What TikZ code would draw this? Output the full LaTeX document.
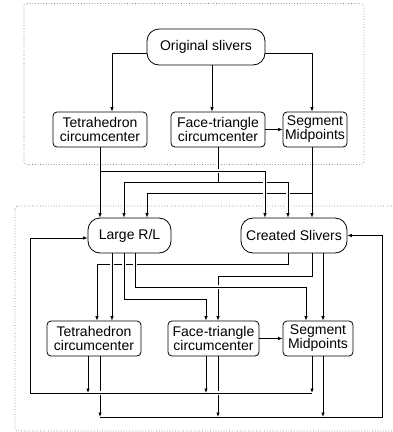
\documentclass[tikz,border=0pt]{standalone}
\usepackage{fontspec}
\setmainfont{Liberation Sans}
\usetikzlibrary{arrows.meta}
\tikzset{
    basic/.style = {draw, line width=0.8pt, rectangle, align=center, inner sep=2pt,
                    font=\fontsize{14}{14}\selectfont},
    big entry/.style   = {basic, rounded corners=12pt, minimum height=36pt},
    small entry/.style = {basic, rounded corners=4pt, minimum height=35pt},
    group frame/.style = {draw=gray, dotted, line width=0.7pt, rounded corners=3pt},
    jump over/.style   = {preaction={draw=white, -, line width=4pt, shorten <=4pt, shorten >=4pt}}
}

\begin{document}
\begin{tikzpicture}[x=1pt, y=-1pt, line width=0.7pt, >={Latex[length=4.5pt,width=3.5pt]}]
	\useasboundingbox (0,0) rectangle (393,432);
	% groups
	\draw[group frame] (24,3.5) rectangle (364,164.5);
	\draw[group frame] (15,206) rectangle (410,431);

	% first stage
	\node[big entry, minimum width=118pt] (orig) at (206,47) {Original slivers};
	\node[small entry, minimum width=94pt] (tetA) at (100,129.5) {Tetrahedron\\circumcenter};
	\node[small entry, minimum width=94pt] (faceA) at (218,129.5) {Face-triangle\\circumcenter};
	\node[small entry, minimum width=64pt] (segA) at (315,129.5) {Segment\\Midpoints};

	% second stage
	\node[big entry, minimum width=83pt, minimum height=35pt] (large) at (129.5,235.5) {Large R/L};
	\node[big entry, minimum width=106pt, minimum height=35pt] (created) at (294,235.5) {Created Slivers};

	% third stage
	\node[small entry, minimum width=94pt] (tetB) at (94,338.5) {Tetrahedron\\circumcenter};
	\node[small entry, minimum width=91pt] (faceB) at (213.5,338.5) {Face-triangle\\circumcenter};
	\node[small entry, minimum width=70pt] (segB) at (318,338.5) {Segment\\Midpoints};

	\coordinate (fbL) at (30,393);
	\coordinate (fbR) at (382,417);

	% original slivers
	\draw[->] ([yshift=-6pt]orig.west) -| ([xshift=12pt]tetA.north);
	\draw[->] ([xshift=6pt]orig.south) -- ([xshift=-6pt]faceA.north);
	\draw[->] ([yshift=-6pt]orig.east) -| ([xshift=-3pt]segA.north);
	\draw[->] (faceA.east) -- (segA.west);

	% first stage to second stage
	\draw[->] ([xshift=-3pt]segA.south) -- ([xshift=18pt]created.north);
	\draw[->] ([xshift=-3pt]segA.south) -- ++(0,46) -| ([xshift=17.5pt]large.north);
	\draw[->, jump over] (faceA.south) -- ++(0,35) -| ([xshift=-6pt]created.north);
	\draw[->] (faceA.south) -- ++(0,35) -| ([xshift=-5.5pt]large.north);
	\draw[->, jump over] (tetA.south) -- ++(0,24) -| ([xshift=-29pt]created.north);
	\draw[->] (tetA.south) -- (tetA.south |- large.north);

	% second stage to third stage
	\draw[->] ([xshift=-6pt]created.south) -- ++(0,11) -| ([xshift=3pt]tetB.north);
	\draw[->] ([xshift=18pt]created.south) -- ++(0,23) -| ([xshift=4.5pt]faceB.north);
	\draw[->] ([xshift=29pt]created.south) -- ([xshift=5pt]segB.north);
	\draw[->, jump over] ([xshift=5.5pt]large.south) -- ++(0,34) -| ([xshift=-12pt]segB.north);
	\draw[->, jump over] ([xshift=-5.5pt]large.south) -- ++(0,46) -| ([xshift=-7.5pt]faceB.north);
	\draw[->, jump over] ([xshift=-17.5pt]large.south) -- ([xshift=18pt]tetB.north);
	\draw[->] (faceB.east) -- (segB.west);

	% feedback
	\draw[->] ([xshift=6pt]tetB.south) -- ([xshift=6pt]tetB.south |- fbR);
	\draw[->] ([xshift=4.5pt]faceB.south) -- ([xshift=4.5pt]faceB.south |- fbR);
	\draw[->] ([xshift=5pt]segB.south) -- ([xshift=5pt]segB.south |- fbR);
	\draw[->, jump over] ([xshift=-6pt]segB.south |- fbL) -- (fbL) |- ([yshift=-2.5pt]large.west);
	\draw[->] ([xshift=-6pt]tetB.south) -- ([xshift=-6pt]tetB.south |- fbL);
	\draw[->] ([xshift=-7.5pt]faceB.south) -- ([xshift=-7.5pt]faceB.south |- fbL);
	\draw[->] ([xshift=-6pt]segB.south) -- ([xshift=-6pt]segB.south |- fbL);
	\draw[->] ([xshift=6pt]tetB.south |- fbR) -- (fbR) |- (created.east);
\end{tikzpicture}
\end{document}
